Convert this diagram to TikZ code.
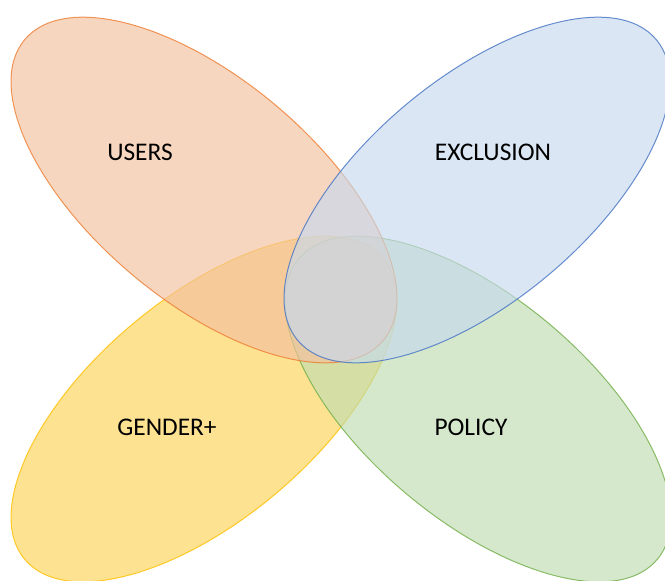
\documentclass[tikz,border=0pt]{standalone}
\usepackage{fontspec}
\setmainfont{Carlito}
\definecolor{orfill}{RGB}{243,192,158}
\definecolor{ordraw}{RGB}{237,125,49}
\definecolor{blfill}{RGB}{198,217,237}
\definecolor{bldraw}{RGB}{68,114,196}
\definecolor{yefill}{RGB}{252,210,87}
\definecolor{yedraw}{RGB}{255,192,0}
\definecolor{grfill}{RGB}{190,220,177}
\definecolor{grdraw}{RGB}{112,173,71}
\begin{document}
\begin{tikzpicture}[x=1pt,y=-1pt,
  petal/.style={line width=1pt, fill opacity=0.65, draw opacity=0.8},
  lbl/.style={font=\fontsize{25.4}{30}\selectfont, text=black, inner sep=0pt}]
\useasboundingbox (0,0) rectangle (665,581);
\clip (0,0) rectangle (665,581);
% petals: yellow, green, orange, blue (bottom to top)
\path[petal, fill=yefill, draw=yedraw] (204,409) ellipse [x radius=234pt, y radius=111pt, rotate=40];
\path[petal, fill=grfill, draw=grdraw] (478,409) ellipse [x radius=234pt, y radius=111pt, rotate=-40];
\path[petal, fill=orfill, draw=ordraw] (204,190) ellipse [x radius=234pt, y radius=111pt, rotate=-40];
\path[petal, fill=blfill, draw=bldraw] (477,190) ellipse [x radius=234pt, y radius=111pt, rotate=40];
% labels
\node[lbl] (users) at (140,152) {USERS};
\node[lbl] (exclusion) at (493,152) {EXCLUSION};
\node[lbl] (gender) at (167,427) {GENDER+};
\node[lbl] (policy) at (471,427) {POLICY};
\end{tikzpicture}
\end{document}
